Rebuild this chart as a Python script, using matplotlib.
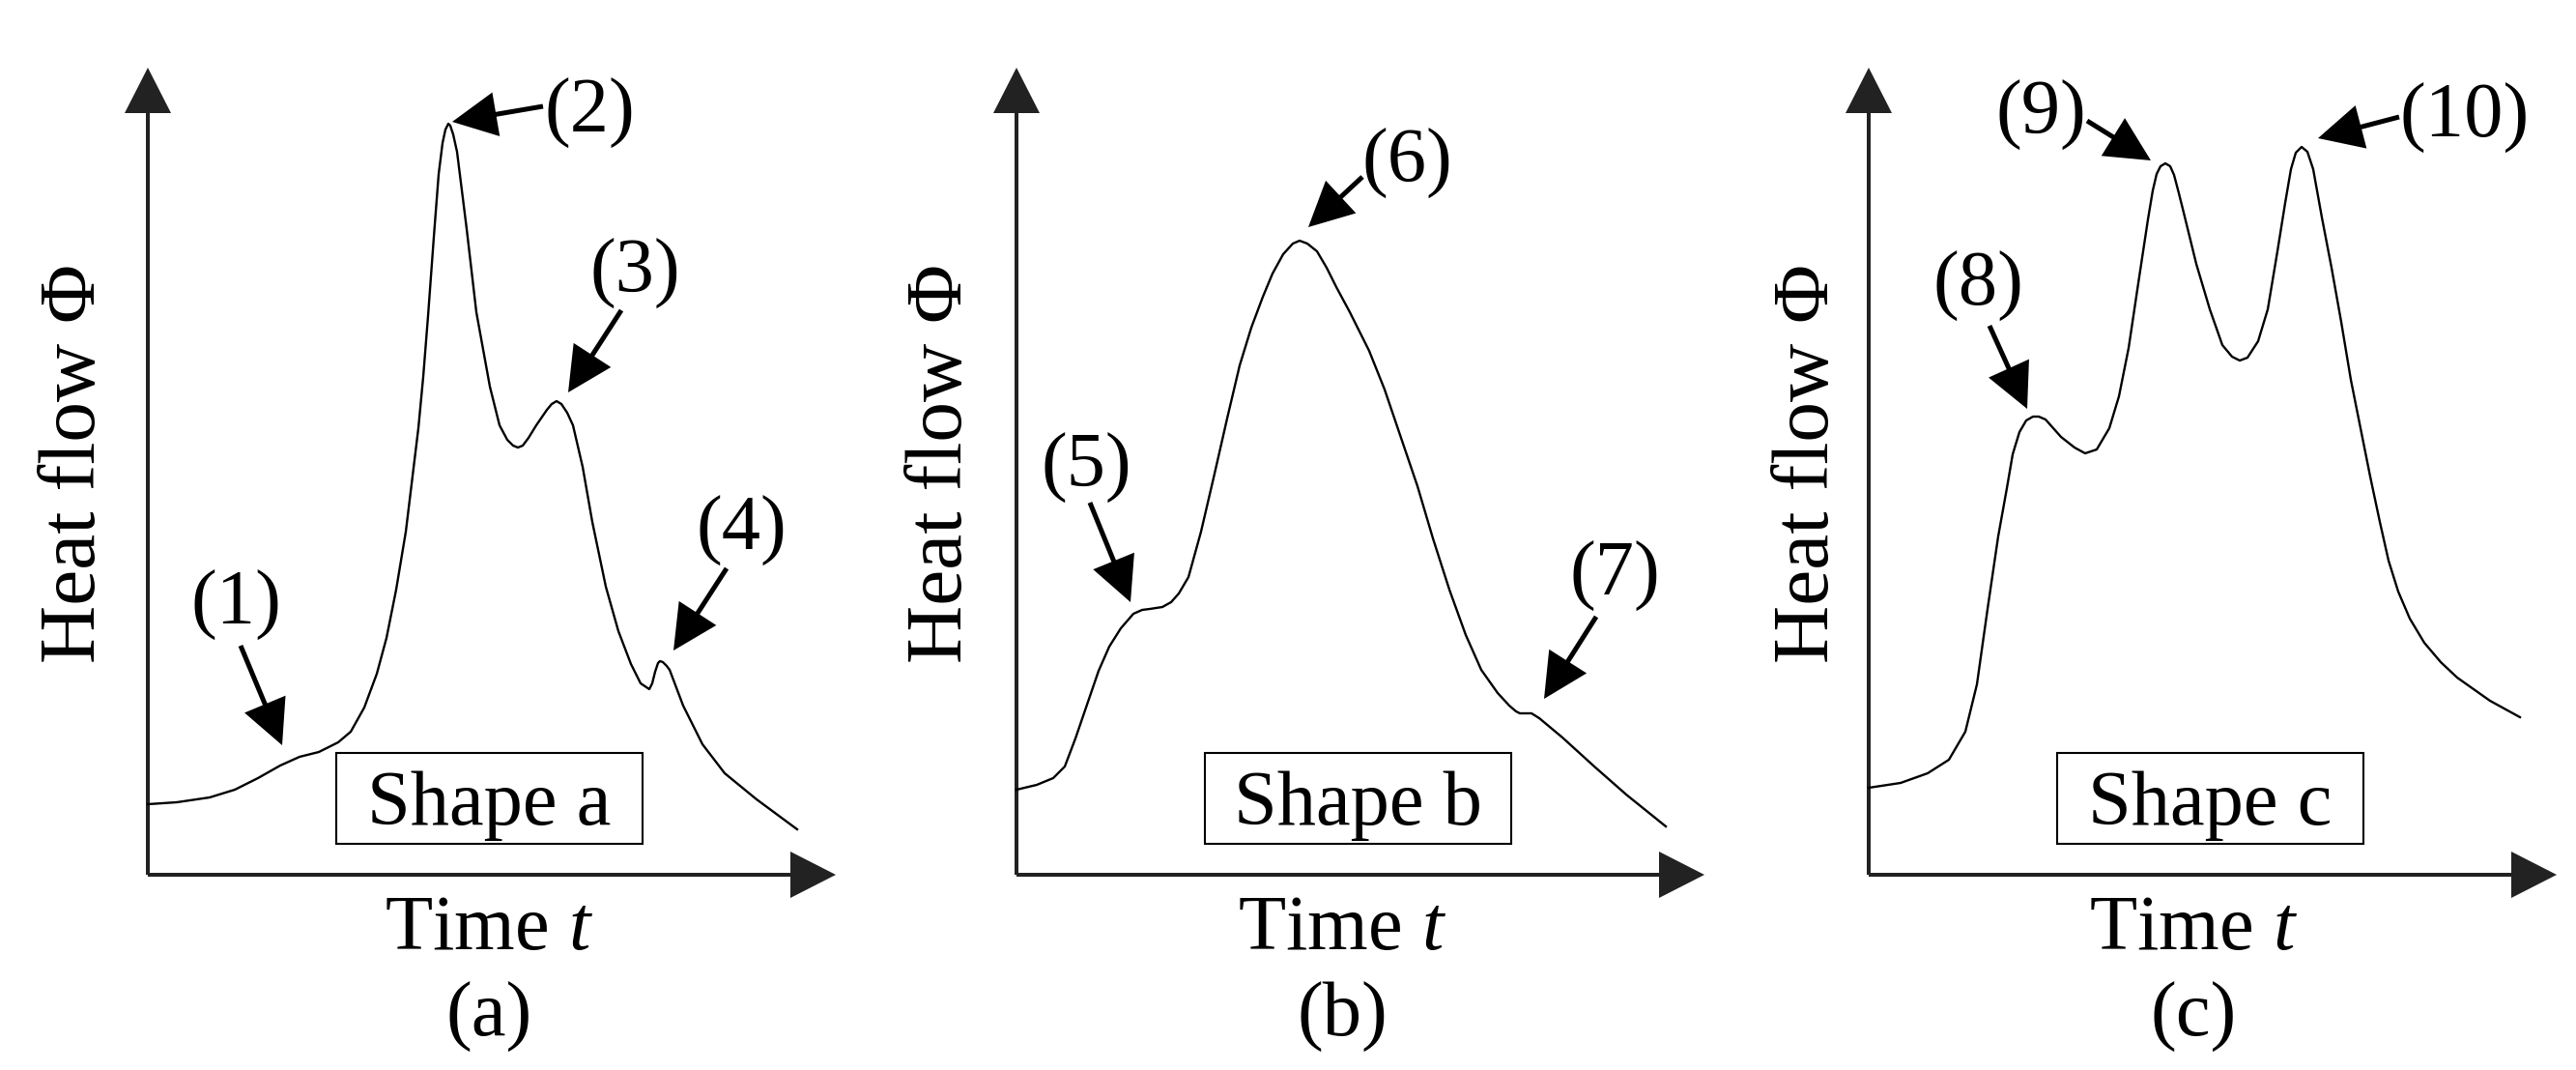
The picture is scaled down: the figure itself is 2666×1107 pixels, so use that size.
import matplotlib
matplotlib.use("Agg")
import matplotlib.pyplot as plt
from matplotlib.patches import Rectangle

plt.rcParams['font.family'] = ['Liberation Serif', 'DejaVu Serif']
plt.rcParams['mathtext.fontset'] = 'custom'
plt.rcParams['mathtext.rm'] = 'Liberation Serif'
plt.rcParams['mathtext.it'] = 'Liberation Serif:italic'

# heat flow curves (arbitrary units)
shape_a_t = [0, 30, 64, 90, 114, 137, 157, 177, 197, 210, 224, 237, 247, 257, 267, 280, 285,
             290, 296, 301, 305, 308, 311, 313, 316, 320, 330, 340, 354, 364, 372, 378, 383,
             388, 394, 402, 413, 418, 423, 428, 434, 440, 450, 460, 474, 487, 500, 510, 516,
             519, 522, 525, 528, 530, 533, 537, 540, 554, 574, 597, 630, 672]
shape_a_phi = [73, 75, 80, 88, 100, 113, 122, 127, 137, 148, 173, 208, 245, 295, 355, 462, 515,
               578, 660, 725, 757, 771, 777, 775, 766, 748, 668, 582, 505, 465, 450, 444, 442,
               444, 452, 465, 481, 487, 490, 487, 478, 465, 422, 365, 298, 252, 218, 198, 194,
               192, 198, 210, 219, 221, 220, 216, 212, 175, 135, 105, 78, 47]

shape_b_t = [0, 21, 38, 50, 61, 73, 85, 96, 108, 121, 130, 138, 151, 160, 168, 178, 191, 205,
             218, 231, 243, 255, 265, 276, 286, 293, 301, 311, 321, 331, 345, 365, 381, 398,
             415, 431, 448, 465, 481, 498, 510, 517, 521, 533, 541, 565, 598, 631, 672]
shape_b_phi = [88, 93, 100, 112, 141, 176, 211, 236, 255, 270, 274, 275, 277, 282, 291, 308,
               355, 415, 472, 527, 566, 598, 622, 642, 653, 656, 653, 645, 628, 608, 582, 542,
               502, 452, 402, 348, 295, 248, 212, 188, 175, 169, 167, 167, 162, 142, 112, 83, 50]

shape_c_t = [0, 33, 61, 83, 100, 112, 123, 134, 143, 149, 156, 163, 170, 176, 183, 199, 213,
             224, 236, 249, 259, 269, 279, 289, 294, 298, 302, 307, 312, 316, 321, 326, 339,
             353, 366, 376, 384, 392, 403, 413, 423, 431, 437, 442, 448, 454, 460, 469, 479,
             489, 499, 509, 519, 529, 538, 548, 560, 575, 592, 609, 643, 674]
shape_c_phi = [90, 95, 105, 119, 148, 197, 275, 350, 400, 435, 458, 470, 474, 474, 471, 453,
               442, 436, 440, 462, 495, 545, 612, 678, 708, 725, 733, 736, 733, 724, 705, 685,
               632, 585, 548, 536, 532, 535, 552, 585, 645, 695, 730, 747, 753, 748, 730, 680,
               628, 572, 512, 462, 412, 365, 325, 293, 265, 240, 220, 204, 180, 163]

peak_labels = [['(1)', '(2)', '(3)', '(4)'], ['(5)', '(6)', '(7)'], ['(8)', '(9)', '(10)']]
box_labels = ['Shape a', 'Shape b', 'Shape c']
panel_tags = ['(a)', '(b)', '(c)']

# label placement: text centre, arrow tail, arrow tip
marks = [
    [(91, 279, 96, 237, 139, 134), (457, 788, 409, 795, 315, 779),
     (504, 622, 490, 584, 435, 499), (614, 356, 599, 317, 544, 232)],
    [(72, 421, 76, 385, 118, 282), (404, 736, 358, 722, 302, 670),
     (619, 309, 600, 267, 546, 182)],
    [(113, 609, 125, 568, 164, 482), (178, 786, 226, 780, 292, 739),
     (617, 783, 549, 784, 465, 762)],
]
origins = [153, 1052, 1934]
ylabel_x = [-55, -57, -42]
xlabel_x = [353, 337, 336]

W, H = 2666, 1107
fig = plt.figure(figsize=(W / 100, H / 100), dpi=100)
axis_color = '#222222'
fs = 58

curves = [(shape_a_t, shape_a_phi), (shape_b_t, shape_b_phi), (shape_c_t, shape_c_phi)]

for i, (t, phi) in enumerate(curves):
    assert len(t) == len(phi)
    ax = fig.add_axes([origins[i] / W, (H - 905) / H, 720 / W, 845 / H])
    ax.set_xlim(0, 720)
    ax.set_ylim(0, 845)
    ax.set_axis_off()

    # axes with arrow heads
    ax.arrow(0, 0, 712, 0, width=4, head_width=48, head_length=47,
             length_includes_head=True, color=axis_color, lw=0, clip_on=False)
    ax.arrow(0, 0, 0, 835, width=4, head_width=48, head_length=47,
             length_includes_head=True, color=axis_color, lw=0, clip_on=False)

    ax.plot(t, phi, color='black', lw=1.7, solid_joinstyle='round', clip_on=False)

    for lab, (lx, ly, ax0, ay0, ax1, ay1) in zip(peak_labels[i], marks[i]):
        ax.text(lx, ly, lab, fontsize=fs, ha='center', va='center')
        ax.arrow(ax0, ay0, ax1 - ax0, ay1 - ay0, width=5, head_width=46, head_length=46,
                 length_includes_head=True, color='black', lw=0, clip_on=False)

    ax.add_patch(Rectangle((195, 32), 317, 94, fill=False, ec='black', lw=1.5, clip_on=False))
    ax.text(353.5, 52, box_labels[i], fontsize=fs, ha='center', va='baseline')

    ax.text(ylabel_x[i], 425, 'Heat flow Φ', fontsize=60, rotation=90,
            rotation_mode='anchor', ha='center', va='baseline')
    ax.text(xlabel_x[i], -77, 'Time $t$', fontsize=fs, ha='center', va='baseline')
    ax.text(xlabel_x[i], -147, panel_tags[i], fontsize=fs, ha='center', va='center')

fig.savefig('out.png', dpi=100)
